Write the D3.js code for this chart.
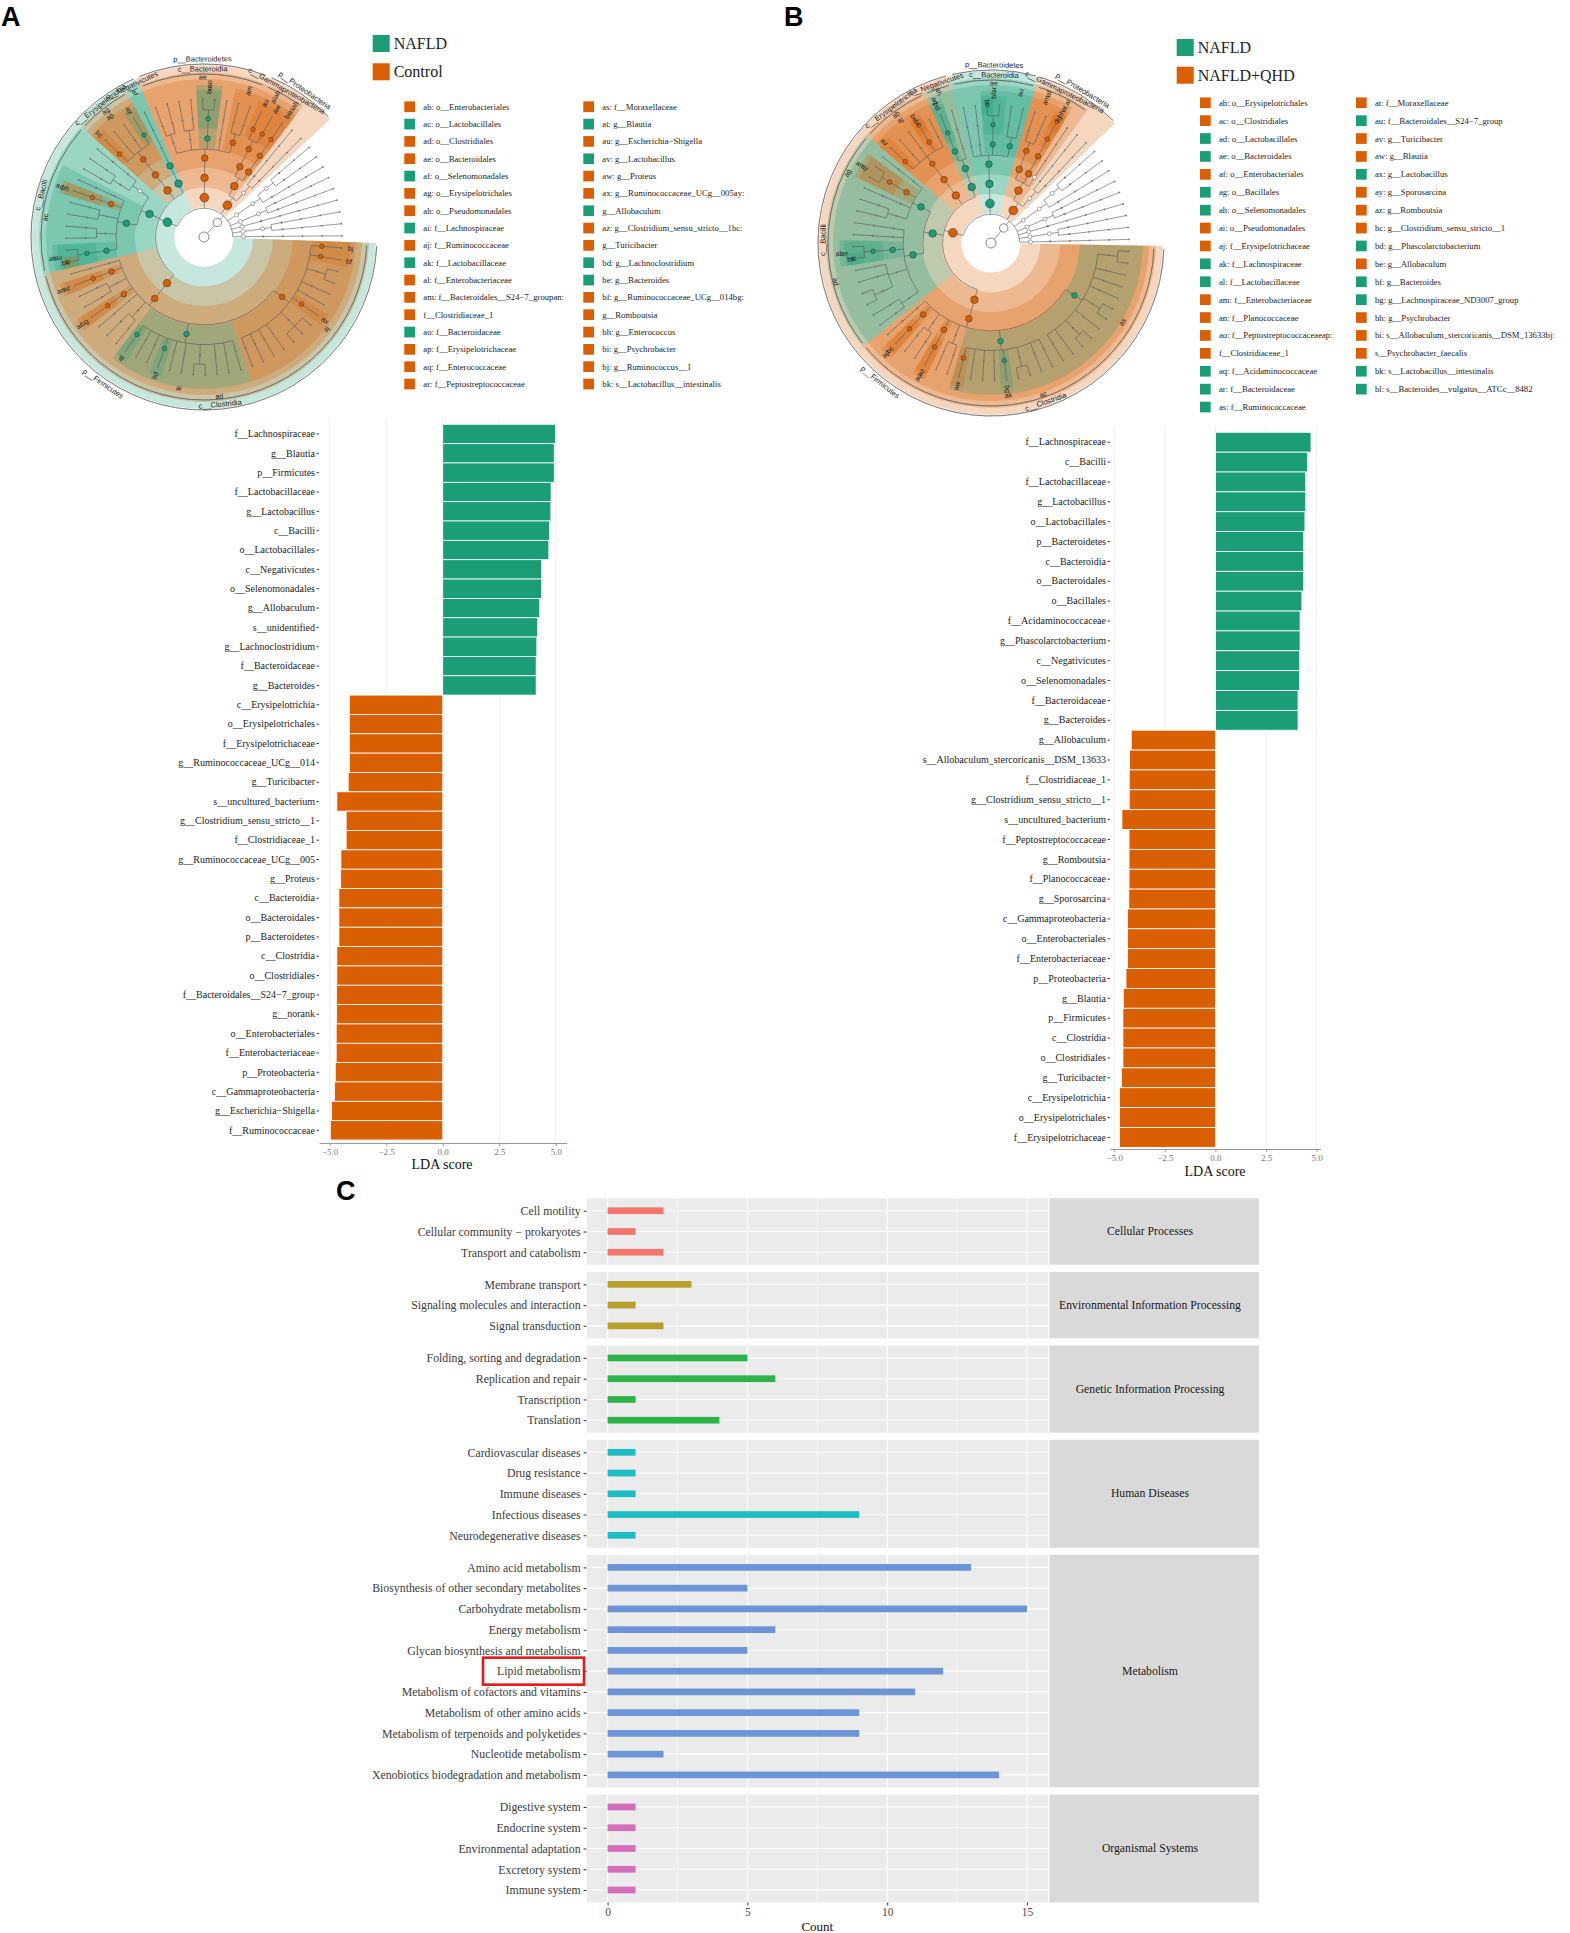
<!DOCTYPE html>
<html>
<head>
<meta charset="utf-8">
<script src="https://cdn.jsdelivr.net/npm/d3@7"></script>
<style>
  body { margin: 0; background: #fff; }
  svg { display: block; }
</style>
</head>
<body>
<svg id="fig" width="1570" height="1933"></svg>
<script>
// ── DATA ──────────────────────────────────────────────────────────────────
const NAFLD = '#1B9E77', CTRL = '#D95F02';
const groupColor = { N: NAFLD, C: CTRL };

// LEfSe bars, panel A (NAFLD vs Control)
const ldaLabelsA = ['f__Lachnospiraceae','g__Blautia','p__Firmicutes','f__Lactobacillaceae','g__Lactobacillus','c__Bacilli',
  'o__Lactobacillales','c__Negativicutes','o__Selenomonadales','g__Allobaculum','s__unidentified','g__Lachnoclostridium',
  'f__Bacteroidaceae','g__Bacteroides','c__Erysipelotrichia','o__Erysipelotrichales','f__Erysipelotrichaceae',
  'g__Ruminococcaceae_UCg__014','g__Turicibacter','s__uncultured_bacterium','g__Clostridium_sensu_stricto__1',
  'f__Clostridiaceae_1','g__Ruminococcaceae_UCg__005','g__Proteus','c__Bacteroidia','o__Bacteroidales','p__Bacteroidetes',
  'c__Clostridia','o__Clostridiales','f__Bacteroidales__S24\u22127_group','g__norank','o__Enterobacteriales',
  'f__Enterobacteriaceae','p__Proteobacteria','c__Gammaproteobacteria','g__Escherichia\u2212Shigella','f__Ruminococcaceae'];
const ldaValuesA = [4.98,4.93,4.93,4.79,4.78,4.72,4.69,4.37,4.37,4.29,4.19,4.16,4.13,4.13,
  -4.13,-4.13,-4.13,-4.13,-4.18,-4.68,-4.27,-4.27,-4.50,-4.51,-4.59,-4.59,-4.59,-4.68,-4.68,-4.69,-4.69,
  -4.71,-4.71,-4.75,-4.78,-4.91,-4.97];

// LEfSe bars, panel B (NAFLD vs NAFLD+QHD)
const ldaLabelsB = ['f__Lachnospiraceae','c__Bacilli','f__Lactobacillaceae','g__Lactobacillus','o__Lactobacillales',
  'p__Bacteroidetes','c__Bacteroidia','o__Bacteroidales','o__Bacillales','f__Acidaminococcaceae','g__Phascolarctobacterium',
  'c__Negativicutes','o__Selenomonadales','f__Bacteroidaceae','g__Bacteroides','g__Allobaculum',
  's__Allobaculum_stercoricanis__DSM_13633','f__Clostridiaceae_1','g__Clostridium_sensu_stricto__1','s__uncultured_bacterium',
  'f__Peptostreptococcaceae','g__Romboutsia','f__Planococcaceae','g__Sporosarcina','c__Gammaproteobacteria',
  'o__Enterobacteriales','f__Enterobacteriaceae','p__Proteobacteria','g__Blautia','p__Firmicutes','c__Clostridia',
  'o__Clostridiales','g__Turicibacter','c__Erysipelotrichia','o__Erysipelotrichales','f__Erysipelotrichaceae'];
const ldaValuesB = [4.72,4.54,4.46,4.46,4.42,4.36,4.36,4.36,4.27,4.18,4.18,4.16,4.16,4.08,4.08,
  -4.16,-4.24,-4.26,-4.26,-4.62,-4.27,-4.27,-4.27,-4.28,-4.34,-4.34,-4.34,-4.42,-4.55,-4.57,-4.57,-4.57,
  -4.64,-4.74,-4.74,-4.74];
const ldaTicks = [-5, -2.5, 0, 2.5, 5];

// cladogram trees: [label, group, children | number of plain leaves]
const gapPhyla = [['','',[['','',[['','',2],1]]]],['','',[['','',2]]],['','',1],['','',[['','',2]]],['','',1]];
const treeA = ['root','',[['k__Bacteria','',[
  ['p__Firmicutes','N',[
    ['c__Clostridia','C',[['ad','C',[
      ['aj','C',[['bj','C',0],['bf','C',0],['','',2],2,['ax','C',0],['','',3],4]],
      ['ai','N',[3,['','',2],2,['bd','N',0],2,['at','N',0]]],
      ['','',2],['','',1],['ar','C',[['bg','C',0]]],['','',2],['an','C',[['az','C',0]]],['','',1]
    ]]]],
    ['c__Bacilli','N',[
      ['ac','N',[['ak','N',[['av','N',[['bk','C',0],1]]]],['','',2],['','',[1,1]],['aq','C',[['bh','C',0]]],['','',1]]],
      ['','',[['','',2],['','',1]]]
    ]],
    ['c__Erysipelotrichia','C',[['ag','C',[['ap','C',[['bc','C',0],2,['ay','N',0]]]]]]],
    ['c__Negativicutes','N',[['af','N',[['','',1]]]]]
  ]],
  ['p__Bacteroidetes','C',[['c__Bacteroidia','C',[['ae','C',[['','',2],['','',2],['ao','N',[['be','N',2]]],['','',1],['am','C',2]]]]]]],
  ['p__Proteobacteria','C',[['c__Gammaproteobacteria','C',[['ab','C',[['al','C',[['au','C',0],['aw','C',0]]]]],['ah','C',[['as','C',[['bi','C',0]]]]]]],['','',2]]],
  ...gapPhyla
]]]];
const treeB = ['root','',[['k__Bacteria','',[
  ['p__Firmicutes','C',[
    ['c__Clostridia','C',[['ac','C',[
      ['as','N',[['','',2],3,['','',2],1,['','',2],2]],
      ['ak','N',[2,['','',2],['bg','N',0],3,['aw','C',0]]],
      ['','',2],['ao','C',[['az','C',0]]],['','',2],['ap','C',[['bc','C',0]]],['','',1]
    ]]]],
    ['c__Bacilli','N',[
      ['ad','N',[['','',2],['','',[['','',2],2]],['al','N',[['ax','N',[['bk','N',0],1]]]],['','',1],['','',1]]],
      ['ag','N',[['','',2],['','',1],['an','C',[['ay','C',2]]],['','',1]]]
    ]],
    ['c__Erysipelotrichia','C',[['ab','C',[['aj','C',[['av','C',0],2,['be','C',[['bi','C',0]]],1]]]]]],
    ['c__Negativicutes','N',[['ah','N',[['aq','N',[['bd','N',0]]],['','',1]]]]]
  ]],
  ['p__Bacteroidetes','N',[['c__Bacteroidia','N',[['ae','N',[['','',1],['','',1],['ar','N',[['bf','N',[['bl','N',0],1]]]],['au','N',2]]]]]]],
  ['p__Proteobacteria','C',[['c__Gammaproteobacteria','C',[['af','C',[['am','C',2]]],['ai','C',[['at','C',[['bh','C',[['bj','C',0]]]]]]],['','',1]]],['','',2]]],
  ...gapPhyla
]]]];

// cladogram legends
const legendBigA = ['NAFLD', 'Control'];
const legendA1 = ['ab: o__Enterobacteriales','ac: o__Lactobacillales','ad: o__Clostridiales','ae: o__Bacteroidales',
  'af: o__Selenomonadales','ag: o__Erysipelotrichales','ah: o__Pseudomonadales','ai: f__Lachnospiraceae','aj: f__Ruminococcaceae',
  'ak: f__Lactobacillaceae','al: f__Enterobacteriaceae','am: f__Bacteroidales__S24\u22127_groupan:','f__Clostridiaceae_1',
  'ao: f__Bacteroidaceae','ap: f__Erysipelotrichaceae','aq: f__Enterococcaceae','ar: f__Peptostreptococcaceae'];
const legendA1g = 'CNCCNCCNCNCCCNCCC';
const legendA2 = ['as: f__Moraxellaceae','at: g__Blautia','au: g__Escherichia\u2212Shigella','av: g__Lactobacillus','aw: g__Proteus',
  'ax: g__Ruminococcaceae_UCg__005ay:','g__Allobaculum','az: g__Clostridium_sensu_stricto__1bc:','g__Turicibacter',
  'bd: g__Lachnoclostridium','be: g__Bacteroides','bf: g__Ruminococcaceae_UCg__014bg:','g__Romboutsia','bh: g__Enterococcus',
  'bi: g__Psychrobacter','bj: g__Ruminococcus__1','bk: s__Lactobacillus__intestinalis'];
const legendA2g = 'CNCNCCNCCNNCCCCCC';
const legendBigB = ['NAFLD', 'NAFLD+QHD'];
const legendB1 = ['ab: o__Erysipelotrichales','ac: o__Clostridiales','ad: o__Lactobacillales','ae: o__Bacteroidales',
  'af: o__Enterobacteriales','ag: o__Bacillales','ah: o__Selenomonadales','ai: o__Pseudomonadales','aj: f__Erysipelotrichaceae',
  'ak: f__Lachnospiraceae','al: f__Lactobacillaceae','am: f__Enterobacteriaceae','an: f__Planococcaceae',
  'ao: f__Peptostreptococcaceaeap:','f__Clostridiaceae_1','aq: f__Acidaminococcaceae','ar: f__Bacteroidaceae','as: f__Ruminococcaceae'];
const legendB1g = 'CCNNCNNCCNNCCCCNNN';
const legendB2 = ['at: f__Moraxellaceae','au: f__Bacteroidales__S24\u22127_group','av: g__Turicibacter','aw: g__Blautia',
  'ax: g__Lactobacillus','ay: g__Sporosarcina','az: g__Romboutsia','bc: g__Clostridium_sensu_stricto__1',
  'bd: g__Phascolarctobacterium','be: g__Allobaculum','bf: g__Bacteroides','bg: g__Lachnospiraceae_ND3007_group',
  'bh: g__Psychrobacter','bi: s__Allobaculum_stercoricanis__DSM_13633bj:','s__Psychrobacter_faecalis',
  'bk: s__Lactobacillus__intestinalis','bl: s__Bacteroides__vulgatus__ATCc__8482'];
const legendB2g = 'CNCCNCCCNCNNCCCNN';

// KEGG panel C
const keggGroups = ['Cellular Processes','Environmental Information Processing','Genetic Information Processing',
  'Human Diseases','Metabolism','Organismal Systems'];
const keggPathways = [
  ['Cell motility','Cellular community \u2212 prokaryotes','Transport and catabolism'],
  ['Membrane transport','Signaling molecules and interaction','Signal transduction'],
  ['Folding, sorting and degradation','Replication and repair','Transcription','Translation'],
  ['Cardiovascular diseases','Drug resistance','Immune diseases','Infectious diseases','Neurodegenerative diseases'],
  ['Amino acid metabolism','Biosynthesis of other secondary metabolites','Carbohydrate metabolism','Energy metabolism',
   'Glycan biosynthesis and metabolism','Lipid metabolism','Metabolism of cofactors and vitamins',
   'Metabolism of other amino acids','Metabolism of terpenoids and polyketides','Nucleotide metabolism',
   'Xenobiotics biodegradation and metabolism'],
  ['Digestive system','Endocrine system','Environmental adaptation','Excretory system','Immune system']
];
const keggCounts = [[2,1,2],[3,1,2],[5,6,1,4],[1,1,1,9,1],[13,5,15,6,5,12,11,9,9,2,14],[1,1,1,1,1]];
const keggColors = ['#F3766E','#B8A02C','#2DB24A','#1DBDC4','#6C94D6','#D46DBA'];
const countTicks = [0, 5, 10, 15];
const highlighted = 'Lipid metabolism';

// ── SETUP ─────────────────────────────────────────────────────────────────
const SERIF = "'Liberation Serif', 'Times New Roman', serif";
const SANS = "'Liberation Sans', Arial, sans-serif";
const svg = d3.select('#fig');
svg.append('rect').attr('width', 1570).attr('height', 1933).attr('fill', '#fff');

[['A', 1, 26], ['B', 784, 26], ['C', 336, 1200]].forEach(([t, x, y]) =>
  svg.append('text').attr('x', x).attr('y', y).attr('font-family', SANS)
    .attr('font-weight', 'bold').attr('font-size', 27).text(t));

// ── CLADOGRAMS ────────────────────────────────────────────────────────────
const rLevel = d3.scaleLinear().domain([0, 7]).range([0, 138]);
const outerR = [0, 0, 172, 165, 158, 152, 147, 143];
const labelR = [0, 0, 178, 168, 160, 153, 147, 141];
const nodeR = [5, 4.2, 4.4, 3.8, 3.3, 2.8, 2.3, 1.9];
const rad = d => d * Math.PI / 180;
const polar = (deg, r) => [r * Math.sin(rad(deg)), -r * Math.cos(rad(deg))];
const norm = a => ((a % 360) + 360) % 360;

function expand(spec) {
  const [label, group, kids] = spec;
  const node = { label, group, children: [] };
  const plain = n => { for (let i = 0; i < n; i++) node.children.push({ label: '', group: '', children: [] }); };
  if (typeof kids === 'number') plain(kids);
  else kids.forEach(k => (typeof k === 'number' ? plain(k) : node.children.push(expand(k))));
  return node;
}

function drawCladogram(cx, cy, spec, startDeg) {
  const g = svg.append('g').attr('transform', `translate(${cx},${cy})`);
  const root = d3.hierarchy(expand(spec), d => (d.children.length ? d.children : null));
  const leaves = root.leaves();
  const angle = d3.scaleLinear().domain([0, leaves.length]).range([startDeg, startDeg + 360]);
  leaves.forEach((d, i) => { d.a0 = angle(i); d.a1 = angle(i + 1); d.a = angle(i + 0.5); });
  root.eachAfter(d => {
    if (!d.children) return;
    d.a0 = d.children[0].a0; d.a1 = d.children[d.children.length - 1].a1;
    d.a = d3.mean(d.children, c => c.a);
  });

  const sig = root.descendants().filter(d => d.data.group).sort((a, b) => a.depth - b.depth);
  const arc = d3.arc();

  g.selectAll('path.sector').data(sig).join('path').attr('class', 'sector')
    .attr('d', d => arc({ innerRadius: rLevel(d.depth) - 9.8, outerRadius: outerR[d.depth],
      startAngle: rad(d.a0), endAngle: rad(d.a1) }))
    .attr('fill', d => groupColor[d.data.group]).attr('fill-opacity', 0.25);

  g.append('circle').attr('r', 29).attr('fill', '#fff');

  // thin label arcs for phylum / class
  g.selectAll('path.larc').data(sig.filter(d => d.depth <= 3)).join('path').attr('class', 'larc')
    .attr('d', d => arc({ innerRadius: labelR[d.depth] - 5, outerRadius: labelR[d.depth] - 5,
      startAngle: rad(d.a0 + 1), endAngle: rad(d.a1 - 1) }))
    .attr('fill', 'none').attr('stroke', '#555').attr('stroke-width', 0.5);

  // branches
  const p = d3.path();
  root.descendants().forEach(d => {
    const rp = rLevel(d.depth);
    if (d.children) {
      if (d.children.length === 1) {
        const c = d.children[0];
        p.moveTo(...polar(d.a, rp)); p.lineTo(...polar(c.a, rLevel(c.depth)));
      } else {
        const rm = rp + 9;
        const f = d.children[0], l = d.children[d.children.length - 1];
        p.moveTo(...polar(d.a, rp)); p.lineTo(...polar(d.a, rm));
        p.moveTo(...polar(f.a, rm)); p.arc(0, 0, rm, rad(f.a - 90), rad(l.a - 90), false);
        d.children.forEach(c => { p.moveTo(...polar(c.a, rm)); p.lineTo(...polar(c.a, rLevel(c.depth))); });
      }
    } else if (d.depth < 7) {
      p.moveTo(...polar(d.a, rp)); p.lineTo(...polar(d.a, rLevel(7)));
    }
  });
  g.append('path').attr('d', p.toString()).attr('fill', 'none').attr('stroke', '#555').attr('stroke-width', 0.6);

  // extension dots on leaves
  const ext = [];
  leaves.forEach(d => { for (let k = d.depth + 1; k <= 7; k++) ext.push([d.a, k]); });
  g.selectAll('circle.ext').data(ext).join('circle').attr('class', 'ext')
    .attr('cx', d => polar(d[0], rLevel(d[1]))[0]).attr('cy', d => polar(d[0], rLevel(d[1]))[1])
    .attr('r', 0.9).attr('fill', '#777');

  // nodes
  g.selectAll('circle.node').data(root.descendants()).join('circle').attr('class', 'node')
    .attr('cx', d => polar(d.a, rLevel(d.depth))[0]).attr('cy', d => polar(d.a, rLevel(d.depth))[1])
    .attr('r', d => d.data.group ? nodeR[d.depth] : d.depth <= 1 ? nodeR[d.depth] : d.depth <= 4 && d.children ? 2 : 1.1)
    .attr('fill', d => d.data.group ? groupColor[d.data.group] : (d.depth <= 4 && d.children) ? '#fff' : '#777')
    .attr('stroke', d => d.data.group ? '#333' : (d.depth <= 4 && d.children) ? '#555' : 'none')
    .attr('stroke-width', d => d.depth <= 1 ? 0.7 : 0.5);

  // clade labels, centred on each shaded sector
  g.selectAll('text.clab').data(sig.filter(d => d.data.label)).join('text').attr('class', 'clab')
    .attr('transform', d => {
      const mid = (d.a0 + d.a1) / 2;
      const [x, y] = polar(mid, labelR[d.depth]);
      const t = norm(mid);
      let rot;
      if (d.depth <= 3 || d.leaves().length > 2) rot = (t > 90 && t < 270) ? mid - 180 : mid;
      else rot = t < 180 ? mid - 90 : mid + 90;
      return `translate(${x},${y}) rotate(${rot})`;
    })
    .attr('text-anchor', 'middle').attr('dominant-baseline', 'central')
    .attr('font-family', SANS).attr('font-size', d => d.depth <= 3 ? 7.5 : 7).attr('fill', '#222')
    .text(d => d.data.label);
}

drawCladogram(204, 237, treeA, 92);
drawCladogram(991, 243, treeB, 91);

// ── LEGENDS ───────────────────────────────────────────────────────────────
function drawLegend(big, bx, by, bstep, cols, rowY, rowStep) {
  const g = svg.append('g');
  big.forEach((t, i) => {
    g.append('rect').attr('x', bx).attr('y', by + i * bstep).attr('width', 17).attr('height', 17)
      .attr('fill', i ? CTRL : NAFLD);
    g.append('text').attr('x', bx + 21).attr('y', by + i * bstep + 14).attr('font-family', SERIF)
      .attr('font-size', 16).attr('fill', '#222').text(t);
  });
  cols.forEach(([names, grp, x]) => {
    const rows = names.map((n, i) => ({ n, c: groupColor[grp[i]], i }));
    g.selectAll(null).data(rows).join('rect')
      .attr('x', x).attr('y', d => rowY + d.i * rowStep - 5.3).attr('width', 10.7).attr('height', 10.7)
      .attr('fill', d => d.c);
    g.selectAll(null).data(rows).join('text')
      .attr('x', x + 19).attr('y', d => rowY + d.i * rowStep + 3)
      .attr('font-family', SERIF).attr('font-size', 8.7).attr('fill', '#222').text(d => d.n);
  });
}
drawLegend(legendBigA, 372.7, 35, 28.3, [[legendA1, legendA1g, 404.3], [legendA2, legendA2g, 583.3]], 106.7, 17.33);
drawLegend(legendBigB, 1176.7, 39, 27.7, [[legendB1, legendB1g, 1200], [legendB2, legendB2g, 1356]], 102.7, 17.9);

// ── LDA BAR CHARTS ────────────────────────────────────────────────────────
function drawLDA(labels, values, x0, x1, dom, yTop, yBot, axisY, titleX, titleY) {
  const x = d3.scaleLinear().domain(dom).range([x0, x1]);
  const y = d3.scaleBand().domain(labels).range([yTop, yBot]).padding(0);
  const rows = d3.zip(labels, values);
  const g = svg.append('g');

  g.selectAll('line.grid').data(ldaTicks).join('line').attr('class', 'grid')
    .attr('x1', d => x(d)).attr('x2', d => x(d)).attr('y1', yTop - 6).attr('y2', axisY)
    .attr('stroke', '#ebebeb').attr('stroke-width', 0.9);

  g.selectAll('rect.bar').data(rows).join('rect').attr('class', 'bar')
    .attr('x', d => x(Math.min(0, d[1]))).attr('width', d => Math.abs(x(d[1]) - x(0)))
    .attr('y', d => y(d[0])).attr('height', y.bandwidth())
    .attr('fill', d => d[1] > 0 ? NAFLD : CTRL).attr('stroke', '#fff').attr('stroke-width', 0.8);

  const ax = g.append('g').attr('transform', `translate(0,${axisY})`)
    .call(d3.axisBottom(x).tickValues(ldaTicks).tickFormat(d3.format('.1f')).tickSize(3).tickSizeOuter(0));
  ax.select('.domain').attr('stroke', '#999');
  ax.selectAll('.tick line').attr('stroke', '#999');
  ax.selectAll('text').attr('font-family', SERIF).attr('font-size', 9).attr('fill', '#777');

  const ay = g.append('g').attr('transform', `translate(${x0},0)`)
    .call(d3.axisLeft(y).tickSize(2.5).tickPadding(1.5));
  ay.select('.domain').remove();
  ay.selectAll('.tick line').attr('stroke', '#444');
  ay.selectAll('text').attr('font-family', SERIF).attr('font-size', 10).attr('fill', '#222');

  g.append('text').attr('x', titleX).attr('y', titleY).attr('text-anchor', 'middle')
    .attr('font-family', SERIF).attr('font-size', 14).attr('fill', '#111').text('LDA score');
}
drawLDA(ldaLabelsA, ldaValuesA, 319, 566.7, [-5.47, 5.48], 424.3, 1140, 1143, 442, 1169);
drawLDA(ldaLabelsB, ldaValuesB, 1110, 1320.5, [-5.21, 5.19], 432.3, 1147.3, 1149, 1215, 1176);

// ── KEGG PANEL C ──────────────────────────────────────────────────────────
const xC = d3.scaleLinear().domain([-0.75, 15.75]).range([586.6, 1048]);
const gC = svg.append('g');
const rowStep = 20.75, panelGap = 7.2, stripX0 = 1049.4, stripX1 = 1259;
let panelTop = 1198.3;
keggGroups.forEach((grp, gi) => {
  const items = keggPathways[gi];
  const h = (items.length + 0.2) * rowStep;
  const y = d3.scalePoint().domain(items).range([panelTop + 0.6 * rowStep, panelTop + h - 0.6 * rowStep]);
  const g = gC.append('g');

  g.append('rect').attr('x', xC.range()[0]).attr('y', panelTop).attr('width', xC.range()[1] - xC.range()[0])
    .attr('height', h).attr('fill', '#EBEBEB');
  g.selectAll('line.minor').data([2.5, 7.5, 12.5]).join('line').attr('class', 'minor')
    .attr('x1', d => xC(d)).attr('x2', d => xC(d)).attr('y1', panelTop).attr('y2', panelTop + h)
    .attr('stroke', '#fff').attr('stroke-width', 0.5);
  g.selectAll('line.major').data(countTicks).join('line').attr('class', 'major')
    .attr('x1', d => xC(d)).attr('x2', d => xC(d)).attr('y1', panelTop).attr('y2', panelTop + h)
    .attr('stroke', '#fff').attr('stroke-width', 1.1);
  g.selectAll('line.hmaj').data(items).join('line').attr('class', 'hmaj')
    .attr('x1', xC.range()[0]).attr('x2', xC.range()[1]).attr('y1', d => y(d)).attr('y2', d => y(d))
    .attr('stroke', '#fff').attr('stroke-width', 1.1);

  g.selectAll('rect.bar').data(d3.zip(items, keggCounts[gi])).join('rect').attr('class', 'bar')
    .attr('x', xC(0)).attr('width', d => xC(d[1]) - xC(0))
    .attr('y', d => y(d[0]) - 3.35).attr('height', 6.7).attr('fill', keggColors[gi]);

  const ay = g.append('g').attr('transform', `translate(${xC.range()[0]},0)`)
    .call(d3.axisLeft(y).tickSize(3).tickPadding(3));
  ay.select('.domain').remove();
  ay.selectAll('.tick line').attr('stroke', '#333');
  ay.selectAll('text').attr('font-family', SERIF).attr('font-size', 11.8).attr('fill', '#3a3a3a');

  g.append('rect').attr('x', stripX0).attr('y', panelTop).attr('width', stripX1 - stripX0).attr('height', h)
    .attr('fill', '#D9D9D9');
  g.append('text').attr('x', 1150).attr('y', panelTop + h / 2).attr('text-anchor', 'middle')
    .attr('dominant-baseline', 'central').attr('font-family', SERIF).attr('font-size', 11.7)
    .attr('fill', '#1A1A1A').text(grp);

  if (items.includes(highlighted)) {
    g.append('rect').attr('x', 483).attr('y', y(highlighted) - 13.5).attr('width', 101).attr('height', 27)
      .attr('fill', 'none').attr('stroke', '#E3191C').attr('stroke-width', 2.6);
  }
  if (gi === keggGroups.length - 1) {
    const ax = gC.append('g').attr('transform', `translate(0,${panelTop + h})`)
      .call(d3.axisBottom(xC).tickValues(countTicks).tickSize(3).tickPadding(2));
    ax.select('.domain').remove();
    ax.selectAll('.tick line').attr('stroke', '#333');
    ax.selectAll('text').attr('font-family', SERIF).attr('font-size', 11.5).attr('fill', '#4D4D4D');
  }
  panelTop += h + panelGap;
});
gC.append('text').attr('x', (xC.range()[0] + xC.range()[1]) / 2).attr('y', 1931).attr('text-anchor', 'middle')
  .attr('font-family', SERIF).attr('font-size', 13).attr('fill', '#111').text('Count');
</script>
</body>
</html>
